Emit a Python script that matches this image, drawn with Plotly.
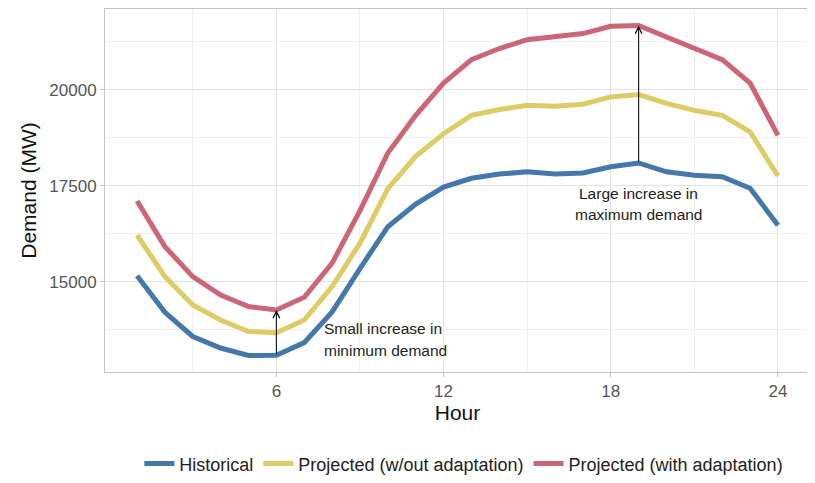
import plotly.graph_objects as go

hours = list(range(1, 25))
historical = [15150, 14200, 13570, 13270, 13075, 13080, 13410, 14210, 15340, 16430,
              17020, 17460, 17690, 17800, 17860, 17800, 17830, 17990, 18090, 17860,
              17770, 17730, 17430, 16470]
projected_no_adapt = [16210, 15130, 14390, 14000, 13700, 13670, 14000, 14870, 16000, 17420,
                      18260, 18850, 19330, 19480, 19590, 19570, 19620, 19810, 19870, 19640,
                      19460, 19330, 18900, 17750]
projected_adapt = [17100, 15910, 15130, 14650, 14350, 14260, 14590, 15480, 16850, 18350,
                   19330, 20170, 20780, 21070, 21300, 21370, 21460, 21650, 21670, 21370,
                   21070, 20780, 20170, 18810]

series_names = ["Historical", "Projected (w/out adaptation)", "Projected (with adaptation)"]
series_colors = ["#4477AA", "#DDCC66", "#CC6677"]
x_ticks = [6, 12, 18, 24]
x_tick_labels = ["6", "12", "18", "24"]
x_minor = [3, 9, 15, 21]
y_ticks = [15000, 17500, 20000]
y_tick_labels = ["15000", "17500", "20000"]
y_minor = [13750, 16250, 18750, 21250]

FONT = "Liberation Sans, Arial, sans-serif"

fig = go.Figure()
for name, vals, col in zip(series_names, [historical, projected_no_adapt, projected_adapt], series_colors):
    fig.add_trace(go.Scatter(x=hours, y=vals, mode="lines", name=name,
                             line=dict(color=col, width=5)))

# expansion like ggplot (5%)
all_vals = historical + projected_no_adapt + projected_adapt
ymin, ymax = min(all_vals), max(all_vals)
ypad = 0.05 * (ymax - ymin)
xpad = 0.05 * (max(hours) - min(hours))

grid = "#E3E3E3"
border = "#C4C4C4"

fig.update_xaxes(range=[min(hours) - xpad, max(hours) + xpad],
                 tickmode="array", tickvals=x_ticks, ticktext=x_tick_labels,
                 showgrid=True, gridcolor=grid, gridwidth=1,
                 minor=dict(tickvals=x_minor, showgrid=True, gridcolor="#EFEFEF", gridwidth=1, ticks=""),
                 zeroline=False, showline=True, mirror=True, linecolor=border, linewidth=1,
                 ticks="outside", ticklen=4, tickcolor=border, automargin=False,
                 tickfont=dict(family=FONT, size=17, color="#555555"),
                 title=dict(text="Hour", font=dict(family=FONT, size=21, color="#111111"), standoff=4))
fig.update_yaxes(range=[ymin - ypad, ymax + ypad],
                 tickmode="array", tickvals=y_ticks, ticktext=y_tick_labels,
                 showgrid=True, gridcolor=grid, gridwidth=1,
                 minor=dict(tickvals=y_minor, showgrid=True, gridcolor="#EFEFEF", gridwidth=1, ticks=""),
                 zeroline=False, showline=True, mirror=True, linecolor=border, linewidth=1,
                 ticks="outside", ticklen=4, tickcolor=border, automargin=False,
                 tickfont=dict(family=FONT, size=17, color="#555555"),
                 title=dict(text="Demand (MW)", font=dict(family=FONT, size=21, color="#111111"), standoff=6))

# arrows from historical to adapted projection at min and max hours
i_min = 5   # hour 6
i_max = 18  # hour 19
for i in (i_min, i_max):
    fig.add_annotation(x=hours[i], y=projected_adapt[i], ax=hours[i], ay=historical[i],
                       xref="x", yref="y", axref="x", ayref="y", text="",
                       showarrow=True, arrowhead=5, arrowsize=1.2, arrowwidth=1.1, arrowcolor="#111111")

afont = dict(family=FONT, size=15.5, color="#222222")
fig.add_annotation(x=7.63, y=13770, text="Small increase in", showarrow=False,
                   xanchor="left", yanchor="middle", font=afont)
fig.add_annotation(x=7.63, y=13198, text="minimum demand", showarrow=False,
                   xanchor="left", yanchor="middle", font=afont)
fig.add_annotation(x=19, y=17305, text="Large increase in", showarrow=False,
                   xanchor="center", yanchor="middle", font=afont)
fig.add_annotation(x=19, y=16759, text="maximum demand", showarrow=False,
                   xanchor="center", yanchor="middle", font=afont)

# the page body adds an 8px offset, so the figure is sized/margined to compensate
fig.update_layout(width=807, height=475,
                  margin=dict(l=97, r=5, t=1, b=111, autoexpand=False),
                  plot_bgcolor="white", paper_bgcolor="white",
                  font=dict(family=FONT),
                  legend=dict(orientation="h", x=0.509, xanchor="center", y=-0.253, yanchor="middle",
                              font=dict(family=FONT, size=18, color="#222222"),
                              itemwidth=30, traceorder="normal"),
                  showlegend=True)

fig.write_html("out.html")
